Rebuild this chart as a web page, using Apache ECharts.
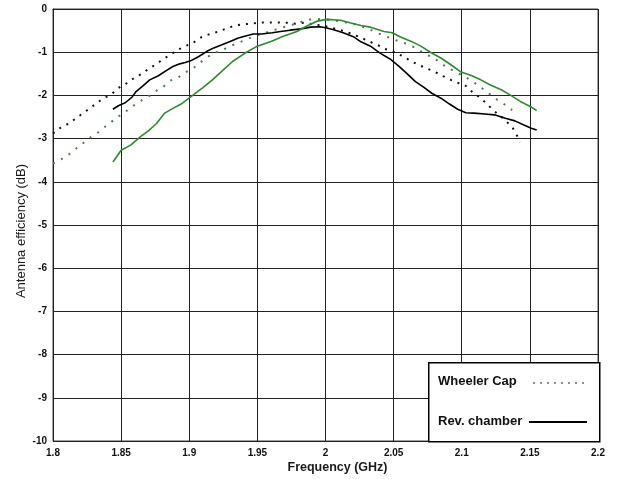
<!DOCTYPE html>
<html>
<head>
<meta charset="utf-8">
<script src="https://cdn.jsdelivr.net/npm/echarts@6/dist/echarts.min.js"></script>
<style>
html,body{margin:0;padding:0;background:#fff;}
#chart{width:617px;height:479px;}
</style>
</head>
<body>
<div id="chart"></div>
<script>
// Axis ticks
const xTicks = { min: 1.8, max: 2.2, step: 0.05 };
const yTicks = { min: -10, max: 0, step: 1 };

// Wheeler Cap, black antenna (dotted)
const wcBlackF = [1.800,1.805,1.811,1.817,1.822,1.827,1.832,1.837,1.843,1.848,1.854,1.859,1.865,1.870,1.876,1.881,1.886,1.892,1.897,1.903,1.909,1.915,1.922,1.928,1.934,1.940,1.946,1.952,1.958,1.964,1.972,1.978,1.984,1.990,2.000,2.010,2.020,2.030,2.040,2.045,2.051,2.057,2.063,2.068,2.074,2.080,2.086,2.092,2.098,2.103,2.108,2.113,2.118,2.123,2.130,2.137,2.140,2.143];
const wcBlackV = [-2.88,-2.76,-2.66,-2.53,-2.41,-2.30,-2.18,-2.07,-1.97,-1.83,-1.72,-1.61,-1.50,-1.39,-1.27,-1.16,-1.06,-0.94,-0.86,-0.78,-0.65,-0.58,-0.52,-0.44,-0.38,-0.35,-0.34,-0.31,-0.31,-0.31,-0.32,-0.34,-0.32,-0.35,-0.40,-0.48,-0.58,-0.72,-0.86,-0.94,-1.00,-1.10,-1.21,-1.29,-1.37,-1.45,-1.55,-1.64,-1.72,-1.78,-1.93,-2.04,-2.18,-2.34,-2.52,-2.73,-2.90,-3.08];

// Wheeler Cap, green antenna (dotted)
const wcGreenF = [1.800,1.806,1.812,1.817,1.822,1.827,1.833,1.838,1.843,1.848,1.853,1.859,1.864,1.870,1.875,1.881,1.886,1.892,1.897,1.903,1.912,1.918,1.925,1.930,1.937,1.943,1.948,1.956,1.962,1.967,1.974,1.980,1.986,1.991,2.000,2.010,2.020,2.030,2.040,2.054,2.060,2.066,2.072,2.077,2.083,2.088,2.095,2.104,2.110,2.116,2.126,2.131,2.137];
const wcGreenV = [-3.58,-3.48,-3.36,-3.23,-3.11,-2.98,-2.86,-2.73,-2.61,-2.49,-2.38,-2.24,-2.13,-2.03,-1.91,-1.80,-1.66,-1.58,-1.47,-1.37,-1.14,-1.02,-0.94,-0.86,-0.77,-0.69,-0.63,-0.55,-0.49,-0.44,-0.38,-0.32,-0.26,-0.23,-0.24,-0.28,-0.34,-0.44,-0.58,-0.75,-0.81,-0.90,-1.02,-1.10,-1.21,-1.33,-1.45,-1.60,-1.72,-1.86,-2.10,-2.20,-2.34];

// Reverberation chamber, black antenna (solid)
const rcBlackF = [1.844,1.848,1.853,1.858,1.861,1.866,1.871,1.877,1.884,1.888,1.893,1.897,1.901,1.907,1.913,1.918,1.924,1.930,1.936,1.942,1.947,1.953,1.961,1.967,1.974,1.982,1.989,1.996,2.001,2.006,2.013,2.021,2.026,2.033,2.040,2.048,2.054,2.060,2.066,2.072,2.078,2.085,2.091,2.097,2.103,2.109,2.117,2.124,2.132,2.139,2.146,2.151,2.155];
const rcBlackV = [-2.32,-2.24,-2.17,-2.04,-1.91,-1.78,-1.64,-1.55,-1.41,-1.33,-1.27,-1.24,-1.20,-1.10,-0.98,-0.90,-0.83,-0.75,-0.67,-0.62,-0.58,-0.58,-0.55,-0.52,-0.49,-0.46,-0.42,-0.41,-0.44,-0.48,-0.55,-0.65,-0.76,-0.86,-1.02,-1.17,-1.33,-1.50,-1.68,-1.81,-1.95,-2.07,-2.20,-2.32,-2.40,-2.41,-2.43,-2.45,-2.53,-2.59,-2.69,-2.76,-2.80];

// Reverberation chamber, green antenna (solid)
const rcGreenF = [1.844,1.850,1.857,1.864,1.870,1.876,1.882,1.888,1.895,1.903,1.910,1.917,1.925,1.932,1.941,1.950,1.960,1.969,1.979,1.986,1.994,2.001,2.011,2.018,2.026,2.033,2.043,2.049,2.055,2.063,2.070,2.077,2.085,2.092,2.099,2.107,2.114,2.121,2.129,2.136,2.143,2.151,2.155];
const rcGreenV = [-3.54,-3.27,-3.15,-2.96,-2.82,-2.65,-2.41,-2.30,-2.18,-1.99,-1.82,-1.64,-1.41,-1.21,-1.02,-0.86,-0.75,-0.63,-0.52,-0.40,-0.28,-0.24,-0.26,-0.32,-0.38,-0.42,-0.52,-0.55,-0.65,-0.75,-0.86,-1.00,-1.14,-1.29,-1.45,-1.54,-1.64,-1.76,-1.87,-2.00,-2.14,-2.27,-2.35];

const legendNames = ['Wheeler Cap', 'Rev. chamber'];
const xName = 'Frequency (GHz)';
const yName = 'Antenna efficiency (dB)';

const zip = (f, v) => f.map((x, i) => [x, v[i]]);
const FONT = 'Liberation Sans, Arial, sans-serif';
const GREEN = '#2f8a2f';

const chart = echarts.init(document.getElementById('chart'), null, { renderer: 'canvas' });
chart.setOption({
  animation: false,
  backgroundColor: '#fff',
  grid: { left: 53, right: 19, top: 9, bottom: 38, show: true, borderColor: '#444', borderWidth: 1 },
  xAxis: {
    type: 'value', min: xTicks.min, max: xTicks.max, interval: xTicks.step,
    name: xName, nameLocation: 'middle', nameGap: 20, nameMoveOverlap: false,
    nameTextStyle: { fontFamily: FONT, fontWeight: 'bold', fontSize: 12.5, color: '#1a1a1a', padding: [0, 0, 0, 24] },
    axisLine: { show: true, lineStyle: { color: '#222', width: 1 } },
    axisTick: { show: false },
    axisLabel: { margin: 7, fontFamily: FONT, fontWeight: 'bold', fontSize: 10, color: '#111',
      formatter: v => String(+v.toFixed(2)) },
    splitLine: { show: true, lineStyle: { color: '#222', width: 1 } }
  },
  yAxis: {
    type: 'value', min: yTicks.min, max: yTicks.max, interval: yTicks.step,
    name: yName, nameLocation: 'middle', nameGap: 25, nameMoveOverlap: false,
    nameTextStyle: { fontFamily: FONT, fontWeight: 'normal', fontSize: 13, color: '#1a1a1a', padding: [0, 12, 0, 0] },
    axisLine: { show: true, lineStyle: { color: '#222', width: 1 } },
    axisTick: { show: false },
    axisLabel: { margin: 6, fontFamily: FONT, fontWeight: 'bold', fontSize: 10, color: '#111' },
    splitLine: { show: true, lineStyle: { color: '#222', width: 1 } }
  },
  series: [
    { name: legendNames[0] + ' (black)', type: 'line', showSymbol: false, data: zip(wcBlackF, wcBlackV),
      lineStyle: { color: '#111', width: 2, type: [2, 6] } },
    { name: legendNames[0] + ' (green)', type: 'line', showSymbol: false, data: zip(wcGreenF, wcGreenV),
      lineStyle: { color: '#4a7f4a', width: 2, type: [2, 7] } },
    { name: legendNames[1] + ' (black)', type: 'line', showSymbol: false, data: zip(rcBlackF, rcBlackV),
      lineStyle: { color: '#000', width: 1.6 } },
    { name: legendNames[1] + ' (green)', type: 'line', showSymbol: false, data: zip(rcGreenF, rcGreenV),
      lineStyle: { color: GREEN, width: 1.6 } }
  ],
  graphic: [
    { type: 'rect', left: 428, top: 362, shape: { width: 171, height: 79 },
      style: { fill: '#fff', stroke: '#000', lineWidth: 1.5 }, z: 100 },
    { type: 'text', left: 438, top: 375, z: 101,
      style: { text: legendNames[0], font: 'bold 13px ' + FONT, fill: '#111' } },
    { type: 'line', z: 101, shape: { x1: 533, y1: 383, x2: 584, y2: 383 },
      style: { stroke: '#222', lineWidth: 1.2, lineDash: [2, 5] } },
    { type: 'text', left: 438, top: 415, z: 101,
      style: { text: legendNames[1], font: 'bold 13px ' + FONT, fill: '#111' } },
    { type: 'line', z: 101, shape: { x1: 529, y1: 422, x2: 587, y2: 422 },
      style: { stroke: '#000', lineWidth: 2 } }
  ]
});
</script>
</body>
</html>
